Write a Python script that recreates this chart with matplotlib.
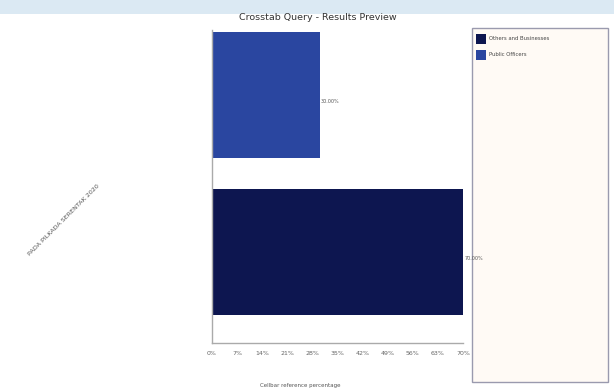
import matplotlib
matplotlib.use("Agg")
import matplotlib.pyplot as plt
from matplotlib.patches import Rectangle

title = "Crosstab Query - Results Preview"
category = "PADA PILKADA SERENTAK 2020"
series_names = ["Others and Businesses", "Public Officers"]
series_values = [70.0, 30.0]
series_colors = ["#0d1650", "#2a46a0"]
tick_values = [0, 7, 14, 21, 28, 35, 42, 49, 56, 63, 70]
tick_labels = ["0%", "7%", "14%", "21%", "28%", "35%", "42%", "49%", "56%", "63%", "70%"]
xlabel = "Cellbar reference percentage"

W, H = 614, 392
fig = plt.figure(figsize=(W / 100, H / 100), dpi=100)
fig.patch.set_facecolor("white")

# faint watermark band at top
fig.patches.append(Rectangle((0, 1 - 14 / H), 1, 14 / H, transform=fig.transFigure,
                             facecolor="#dbe9f3", edgecolor="none", zorder=0))

ax_l, ax_r, ax_t, ax_b = 212, 463, 30, 343
ax = fig.add_axes([ax_l / W, 1 - ax_b / H, (ax_r - ax_l) / W, (ax_b - ax_t) / H])
ax.set_facecolor("white")
ax.set_zorder(3)

offsets = [-0.25, 0.25]
for name, val, col, off in zip(series_names, series_values, series_colors, offsets):
    ax.barh(off, val, height=0.4, color=col, edgecolor="none")
    ax.text(val + 0.4, off - 0.02, f"{val:.2f}%", fontsize=3.5, color="#555555",
            va="center", ha="left", clip_on=False)

ax.set_xlim(0, 70)
ax.set_ylim(-0.54, 0.457)
ax.set_xticks(tick_values)
ax.set_xticklabels(tick_labels, fontsize=4.5, color="#666666")
ax.set_yticks([])
ax.tick_params(axis="x", length=0, pad=6)
for s in ["top", "right"]:
    ax.spines[s].set_visible(False)
for s in ["left", "bottom"]:
    ax.spines[s].set_color("#aaaaaa")
    ax.spines[s].set_linewidth(1.0)

fig.text(318 / W, 1 - 18 / H, title, fontsize=6.8, color="#333333", ha="center", va="center")
fig.text(300 / W, 1 - 385 / H, xlabel, fontsize=4, color="#555555", ha="center", va="center")
fig.text(64 / W, 1 - 220 / H, category, fontsize=4.6, color="#555555", rotation=45,
         ha="center", va="center", rotation_mode="anchor")

# legend panel
fig.patches.append(Rectangle((472 / W, 1 - 382 / H), (608 - 472) / W, (382 - 28) / H,
                             transform=fig.transFigure, facecolor="#fffaf5",
                             edgecolor="#9a9aae", linewidth=1.0, zorder=1))
leg_y = [39, 55]
for name, col, y in zip(series_names, series_colors, leg_y):
    fig.patches.append(Rectangle((476 / W, 1 - (y + 5) / H), 10 / W, 10 / H,
                                 transform=fig.transFigure, facecolor=col,
                                 edgecolor="none", zorder=2))
    fig.text(489 / W, 1 - y / H, name, fontsize=3.8, color="#444444", ha="left",
             va="center", zorder=3)

fig.savefig("out.png", dpi=100)
